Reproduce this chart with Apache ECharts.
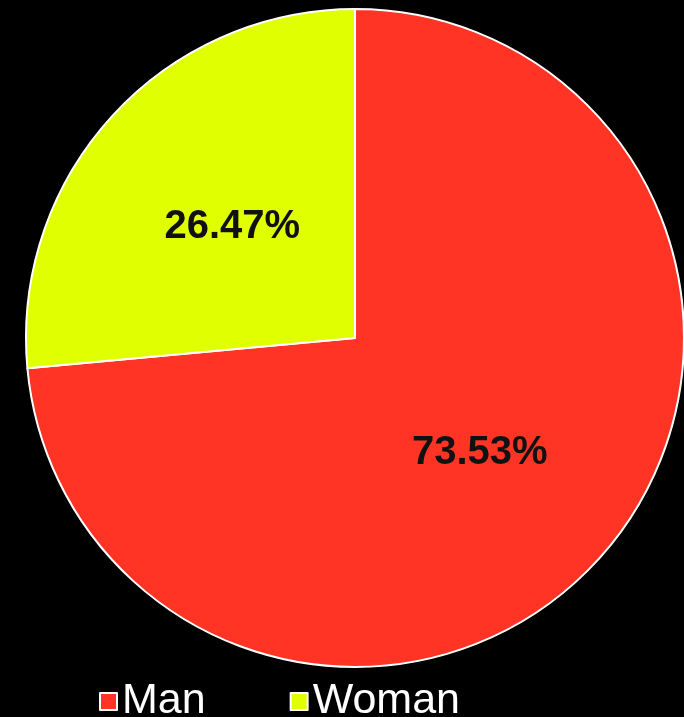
<!DOCTYPE html>
<html>
<head>
<meta charset="utf-8">
<script src="https://cdn.jsdelivr.net/npm/echarts@6/dist/echarts.min.js"></script>
<style>
html,body{margin:0;padding:0;background:#000;}
#chart{width:684px;height:717px;}
</style>
</head>
<body>
<div id="chart"></div>
<script>
var categories = ['Man', 'Woman'];
var values = [73.53, 26.47];
var colors = ['#ff3424', '#e0ff00'];

var chart = echarts.init(document.getElementById('chart'));
var data = categories.map(function (c, i) {
  return { name: c, value: values[i], itemStyle: { color: colors[i] } };
});
chart.setOption({
  backgroundColor: '#000000',
  animation: false,
  legend: {
    data: categories,
    left: 94,
    top: 675,
    icon: 'rect',
    itemWidth: 17,
    itemHeight: 17,
    itemGap: 84,
    itemStyle: { borderColor: '#ffffff', borderWidth: 2 },
    textStyle: { color: '#ffffff', fontSize: 43, fontFamily: 'Liberation Sans, Arial, sans-serif', padding: [0, 0, 0, 0] }
  },
  series: [{
    type: 'pie',
    center: [355, 338],
    radius: [0, 329],
    startAngle: 90,
    clockwise: true,
    itemStyle: { borderColor: '#ffffff', borderWidth: 2 },
    label: {
      show: true,
      position: 'inside',
      formatter: function (p) { return p.value.toFixed(2) + '%'; },
      color: '#111111',
      fontSize: 40,
      fontWeight: 'bold',
      fontFamily: 'Liberation Sans, Arial, sans-serif',
      offset: [1, 2]
    },
    labelLine: { show: false },
    emphasis: { disabled: true },
    data: data
  }]
});
</script>
</body>
</html>
